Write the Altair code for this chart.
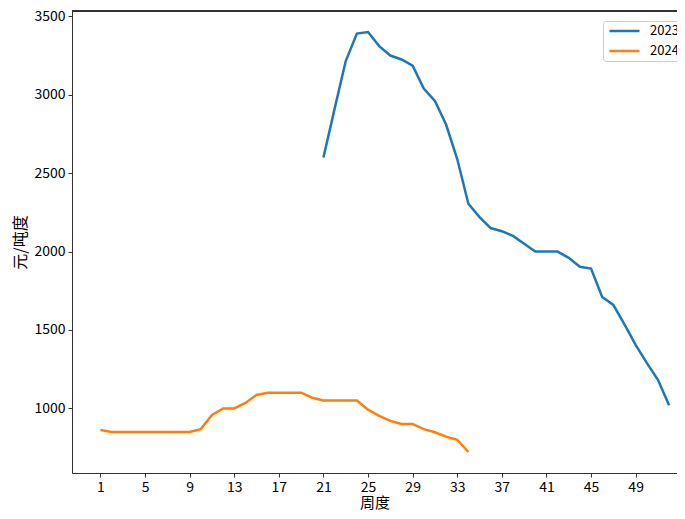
import altair as alt
import pandas as pd

weeks_2023 = list(range(21, 53))
values_2023 = [2600, 2910, 3215, 3390, 3400, 3310, 3250, 3225, 3185, 3040,
               2960, 2810, 2590, 2305, 2220, 2150, 2130, 2100, 2050, 2000,
               2000, 2000, 1960, 1903, 1892, 1710, 1660, 1535, 1405, 1290,
               1182, 1020]

weeks_2024 = list(range(1, 35))
values_2024 = [862, 850, 850, 850, 850, 850, 850, 850, 850, 868,
               958, 1000, 1000, 1035, 1086, 1100, 1100, 1100, 1100, 1068,
               1050, 1050, 1050, 1050, 992, 952, 920, 900, 900, 868,
               848, 820, 800, 722]

x_ticks = [1, 5, 9, 13, 17, 21, 25, 29, 33, 37, 41, 45, 49]
y_ticks = [1000, 1500, 2000, 2500, 3000, 3500]

df = pd.concat([
    pd.DataFrame({"周": weeks_2023, "价格": values_2023, "年份": "2023"}),
    pd.DataFrame({"周": weeks_2024, "价格": values_2024, "年份": "2024"}),
])

FONT = "Noto Sans CJK SC"
W, H = 605, 462

lines = alt.Chart(df).mark_line(strokeWidth=2.5).encode(
    x=alt.X("周:Q", title="周度",
            scale=alt.Scale(domain=[-1.55, 52.71], nice=False, zero=False),
            axis=alt.Axis(values=x_ticks, grid=False, tickSize=4, labelPadding=3,
                          titlePadding=1, labelFontSize=14, titleFontSize=15,
                          labelFont=FONT, titleFont=FONT, titleFontWeight="normal",
                          domainColor="#333", tickColor="#333", labelColor="#000",
                          titleColor="#000")),
    y=alt.Y("价格:Q", title="元/吨度",
            scale=alt.Scale(domain=[588, 3534], nice=False, zero=False),
            axis=alt.Axis(values=y_ticks, format="d", grid=False, tickSize=4,
                          labelPadding=3, titlePadding=5, labelFontSize=14,
                          titleFontSize=16, labelFont=FONT, titleFont=FONT,
                          titleFontWeight="normal", domainColor="#333",
                          tickColor="#333", labelColor="#000", titleColor="#000")),
    color=alt.Color("年份:N",
                    scale=alt.Scale(domain=["2023", "2024"], range=["#1f77b4", "#ff7f0e"]),
                    legend=alt.Legend(title=None, orient="none", legendX=531, legendY=10,
                                      symbolType="stroke", symbolSize=900,
                                      symbolStrokeWidth=2.5, symbolOffset=3,
                                      labelFontSize=13, labelFont=FONT, labelColor="#000",
                                      labelOffset=9, clipHeight=16, rowPadding=4,
                                      strokeColor="#cccccc", fillColor="white",
                                      cornerRadius=3, padding=2)),
)

top_rule = alt.Chart(df).mark_rule(color="#333", strokeWidth=1).encode(
    x=alt.value(0), x2=alt.value(W), y=alt.value(0)
)

chart = alt.layer(lines, top_rule).properties(
    width=W, height=H,
    title=alt.Title("锂云母精矿均价（2.5%）", fontSize=28, font=FONT,
                    fontWeight="normal", anchor="middle", offset=0,
                    baseline="alphabetic", color="#000"),
    autosize=alt.AutoSizeParams(type="none"),
    padding={"left": 64, "top": 3, "right": 0, "bottom": 38},
).configure_view(stroke=None)

chart.save("out.html", embed_options={"renderer": "svg", "actions": False})
